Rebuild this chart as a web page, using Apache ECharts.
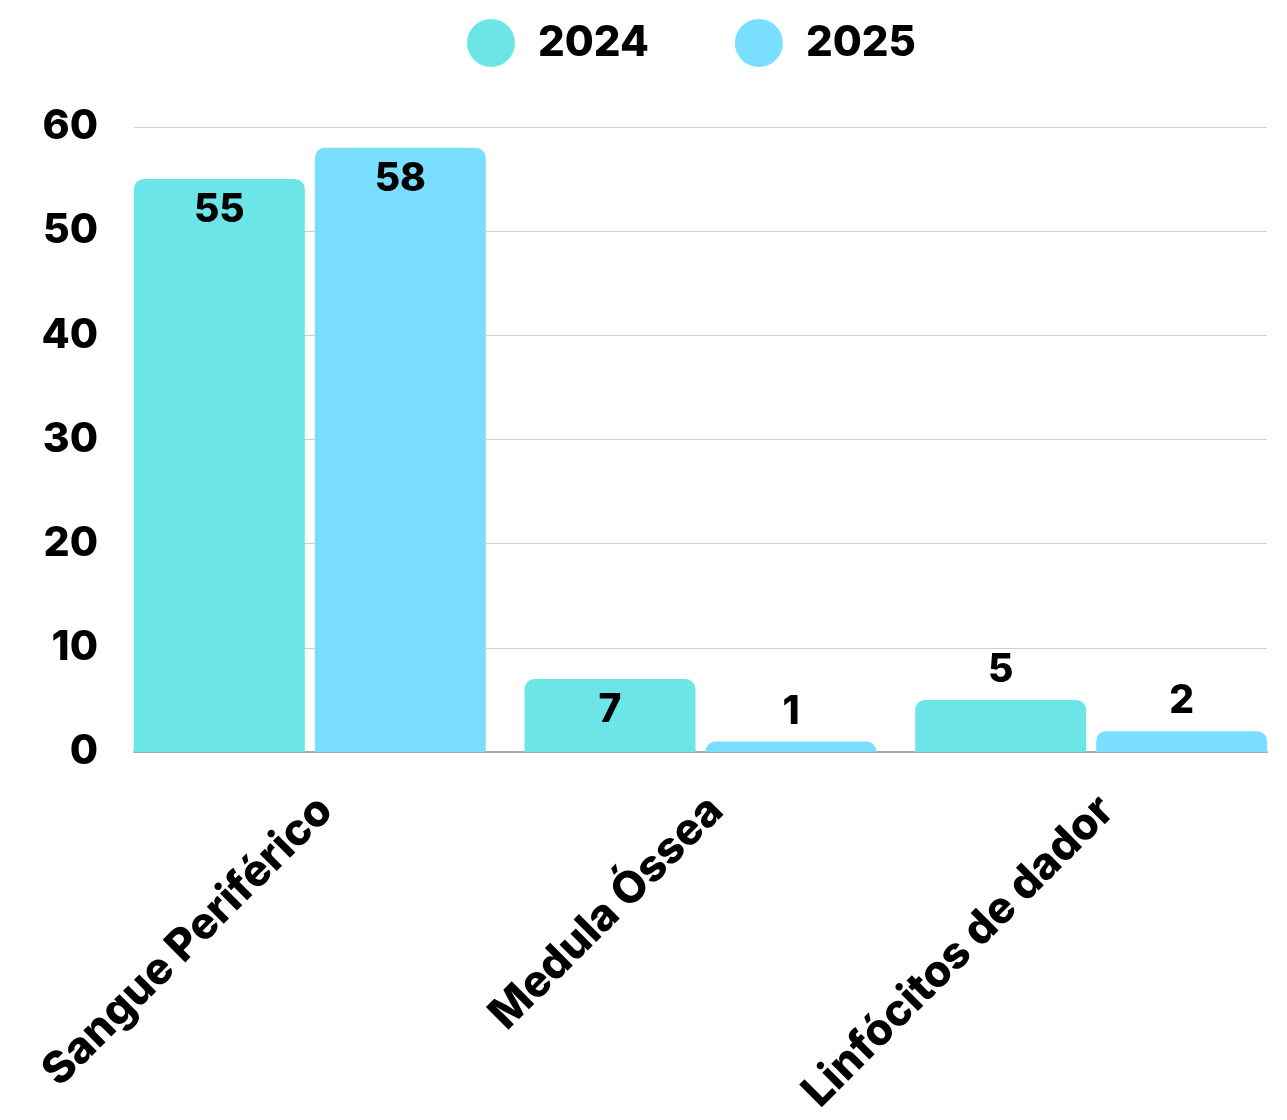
<!DOCTYPE html>
<html>
<head>
<meta charset="utf-8">
<style>
  html, body { margin: 0; padding: 0; background: #fff; }
  #main { width: 1287px; height: 1120px; }
</style>
</head>
<body>
<div id="main"></div>
<script src="https://cdn.jsdelivr.net/npm/echarts@6/dist/echarts.min.js"></script>
<script>
// data
var categories = ['Sangue Periférico', 'Medula Óssea', 'Linfócitos de dador'];
var seriesNames = ['2024', '2025'];
var values2024 = [55, 7, 5];
var values2025 = [58, 1, 2];
var yTicks = [0, 10, 20, 30, 40, 50, 60];

var colors = ['#6ce5e8', '#7adffe'];
var FONT = 'Inter';

// big bars get the number inside, small ones above
function withLabels(vals) {
  return vals.map(function (v) {
    return {
      value: v,
      label: v >= 7 ? { position: 'insideTop', distance: 12 } : { position: 'top', distance: 10 }
    };
  });
}

function barSeries(name, vals, color) {
  return {
    name: name,
    type: 'bar',
    xAxisIndex: 1,
    yAxisIndex: 1,
    barWidth: 171,
    barGap: '5.85%',
    itemStyle: { color: color, borderRadius: [10, 10, 0, 0] },
    label: {
      show: true,
      color: '#000',
      fontFamily: FONT,
      fontWeight: 800,
      fontSize: 39
    },
    data: withLabels(vals)
  };
}

var myChart = echarts.init(document.getElementById('main'));

var option = {
  animation: false,
  color: colors,
  legend: {
    top: 14,
    left: 462,
    icon: 'circle',
    itemWidth: 48,
    itemHeight: 48,
    itemGap: 86,
    textStyle: { fontFamily: FONT, fontWeight: 800, fontSize: 42, color: '#000', padding: [0, 0, 0, 18] },
    data: seriesNames
  },
  grid: [
    // grid with gridlines and y labels
    { left: 134, right: 20, top: 127, bottom: 368 },
    // grid the bars are laid out in
    { left: 114.5, right: 0.5, top: 127, bottom: 368 }
  ],
  xAxis: [
    {
      gridIndex: 0,
      type: 'value',
      min: 0,
      max: 1,
      axisLine: { show: true, onZero: false, lineStyle: { color: '#aaaaaa', width: 2 } },
      axisTick: { show: false },
      axisLabel: { show: false },
      splitLine: { show: false }
    },
    {
      gridIndex: 1,
      type: 'category',
      data: categories,
      axisLine: { show: false },
      axisTick: { show: false },
      axisLabel: {
        rotate: 45,
        margin: 36,
        interval: 0,
        verticalAlign: 'top',
        color: '#000',
        fontFamily: FONT,
        fontWeight: 800,
        fontSize: 44
      }
    }
  ],
  yAxis: [
    {
      gridIndex: 0,
      type: 'value',
      min: yTicks[0],
      max: yTicks[yTicks.length - 1],
      interval: 10,
      axisLine: { show: false },
      axisTick: { show: false },
      axisLabel: {
        margin: 36,
        color: '#000',
        fontFamily: FONT,
        fontWeight: 800,
        fontSize: 41
      },
      splitLine: { lineStyle: { color: '#d0d0d0', width: 1 } }
    },
    {
      gridIndex: 1,
      type: 'value',
      min: yTicks[0],
      max: yTicks[yTicks.length - 1],
      interval: 10,
      show: false,
      splitLine: { show: false }
    }
  ],
  series: [
    barSeries(seriesNames[0], values2024, colors[0]),
    barSeries(seriesNames[1], values2025, colors[1])
  ]
};

myChart.setOption(option);
</script>
</body>
</html>
